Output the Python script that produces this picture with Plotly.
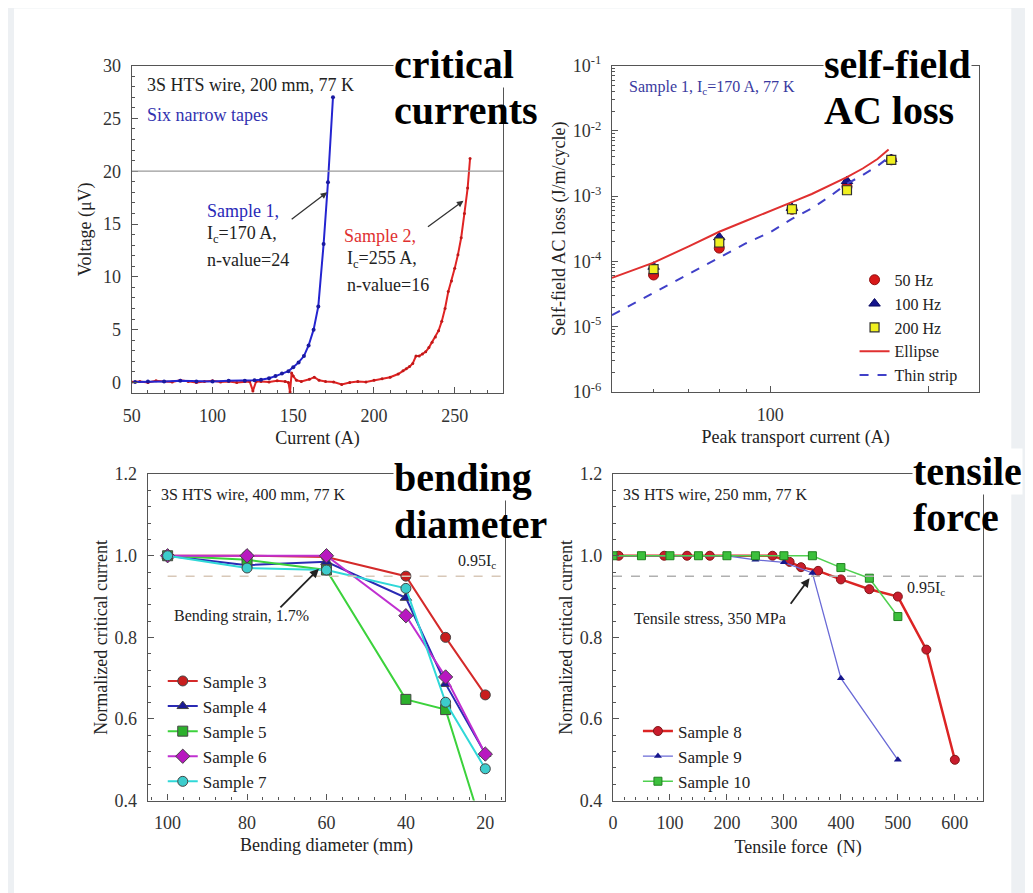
import plotly.graph_objects as go

# X()/Y() map target window pixels to paper fractions (empirically calibrated)
W, H = 1033, 893
SX, OX = 0.993, 16.0
SY, OY = 0.974, 19.5
def X(px): return ((px - OX) / SX) / W
def Y(py): return 1 - ((py - OY) / SY) / H

# ---------------- data ----------------
# Panel 1: V-I curves
s1_current = [52, 60, 70, 80, 90, 100, 110, 120, 126, 130, 135, 139, 143, 147, 150, 153.3, 156.6, 159.5, 162.6, 165.5, 168.8, 171.5, 174.6]
s1_voltage = [0.05, 0.1, 0.1, 0.15, 0.1, 0.1, 0.15, 0.15, 0.2, 0.25, 0.4, 0.6, 0.85, 1.07, 1.45, 1.9, 2.5, 3.5, 5.0, 7.2, 13.1, 18.95, 27.0]
s2_current = [50, 55, 60, 65, 70, 75, 80, 85, 90, 95, 100, 105, 110, 115, 120, 123, 125, 127, 130, 135, 140, 145, 147, 148, 149, 150, 152, 155,
              160, 163, 166, 170, 175, 180, 185, 190, 195, 200, 205, 210, 215, 218, 220, 222, 224, 226, 228, 230, 232, 234, 236, 238, 240,
              242, 244, 246, 248, 250, 252, 254, 256, 258, 259.5]
s2_voltage = [0.05, 0.1, 0.0, 0.15, 0.1, 0.05, 0.2, 0.1, 0.0, 0.1, 0.15, 0.05, 0.1, 0.0, 0.1, 0.1, -0.8, 0.1, 0.1, 0.05, 0.15, 0.1, 0.0, -0.9, 0.9, 0.6,
              0.2, 0.1, 0.3, 0.5, 0.2, 0.1, 0.05, -0.2, 0.0, 0.1, 0.05, 0.2, 0.35, 0.5, 0.8, 1.1, 1.3, 1.5, 1.8, 2.5, 2.5, 2.7, 2.9, 3.3, 3.8,
              4.3, 4.9, 5.8, 7.0, 8.6, 9.6, 10.8, 12.1, 13.7, 16.0, 18.4, 21.2]

# Panel 2: self-field AC loss
peak_current = [60, 80, 110, 140, 170]
loss_50hz = [6.2e-5, 1.6e-4, 6.3e-4, 1.4e-3, 3.6e-3]
loss_100hz = [8.3e-5, 2.35e-4, 6.6e-4, 1.7e-3, 3.7e-3]
loss_200hz = [7.6e-5, 1.95e-4, 6.3e-4, 1.23e-3, 3.6e-3]
model_current = [50, 60, 70, 80, 90, 100, 110, 120, 130, 140, 150, 160, 168]
ellipse_loss = [5.6e-5, 9.6e-5, 1.7e-4, 2.85e-4, 4.2e-4, 6.0e-4, 8.1e-4, 1.08e-3, 1.45e-3, 1.95e-3, 2.65e-3, 3.7e-3, 5.2e-3]
thinstrip_loss = [1.5e-5, 3.3e-5, 6.5e-5, 1.15e-4, 1.9e-4, 2.8e-4, 4.5e-4, 6.5e-4, 1.0e-3, 1.55e-3, 2.1e-3, 2.9e-3, 3.9e-3]

# Panel 3: bending diameter
bend_diam = [100, 80, 60, 40, 30, 20]
bend_s3 = [1.0, 1.0, 0.997, 0.95, 0.80, 0.659]
bend_s4 = [1.0, 0.977, 0.985, 0.897, 0.686, 0.515]
bend_s5 = [1.0, 0.99, 0.965, 0.648, 0.623, 0.31]
bend_s6 = [1.0, 1.0, 1.0, 0.853, 0.703, 0.514]
bend_s7 = [1.0, 0.97, 0.965, 0.92, 0.641, 0.478]

# Panel 4: tensile force
force_s8 = [10, 90, 130, 170, 280, 310, 330, 360, 400, 450, 500, 550, 600]
ic_s8 = [1.0, 1.0, 1.0, 1.0, 1.0, 0.985, 0.972, 0.963, 0.942, 0.918, 0.90, 0.77, 0.50]
force_s9 = [0, 100, 200, 250, 300, 350, 400, 500]
ic_s9 = [1.0, 1.0, 1.0, 0.99, 0.984, 0.958, 0.70, 0.50]
force_s10 = [0, 50, 100, 150, 200, 250, 300, 350, 400, 450, 500]
ic_s10 = [1.0, 1.0, 1.0, 1.0, 1.0, 1.0, 1.0, 1.0, 0.971, 0.945, 0.851]

# ---------------- figure ----------------
SERIF = "Liberation Serif"
fig = go.Figure()

# panel 1
fig.add_trace(go.Scatter(x=s2_current, y=s2_voltage, mode="lines+markers", line=dict(color="#e02424", width=2),
                         marker=dict(size=3, color="#c01818"), showlegend=False, xaxis="x", yaxis="y"))
fig.add_trace(go.Scatter(x=s1_current, y=s1_voltage, mode="lines+markers", line=dict(color="#2424d0", width=2),
                         marker=dict(size=4, color="#1a1aa0"), showlegend=False, xaxis="x", yaxis="y"))

# panel 2
fig.add_trace(go.Scatter(x=peak_current, y=loss_50hz, mode="markers", name="50 Hz",
                         marker=dict(symbol="circle", size=10, color="#d81818", line=dict(color="#901010", width=1)),
                         xaxis="x2", yaxis="y2", legend="legend"))
fig.add_trace(go.Scatter(x=peak_current, y=loss_100hz, mode="markers", name="100 Hz",
                         marker=dict(symbol="triangle-up", size=10, color="#14148c", line=dict(color="#0a0a60", width=1)),
                         xaxis="x2", yaxis="y2", legend="legend"))
fig.add_trace(go.Scatter(x=peak_current, y=loss_200hz, mode="markers", name="200 Hz",
                         marker=dict(symbol="square", size=9, color="#f0f020", line=dict(color="#303030", width=1.2)),
                         xaxis="x2", yaxis="y2", legend="legend"))
fig.add_trace(go.Scatter(x=model_current, y=ellipse_loss, mode="lines", name="Ellipse",
                         line=dict(color="#e03030", width=2), xaxis="x2", yaxis="y2", legend="legend"))
fig.add_trace(go.Scatter(x=model_current, y=thinstrip_loss, mode="lines", name="Thin strip",
                         line=dict(color="#4040c8", width=2, dash="dash"), xaxis="x2", yaxis="y2", legend="legend"))

# panel 3
bend_styles = [
    ("Sample 3", bend_s3, "#d42a2a", "#c81e1e", "circle"),
    ("Sample 4", bend_s4, "#2a2ab4", "#1a1a96", "triangle-up"),
    ("Sample 5", bend_s5, "#3cd23c", "#2cb02c", "square"),
    ("Sample 6", bend_s6, "#c030d0", "#b818c0", "diamond"),
    ("Sample 7", bend_s7, "#30d8d8", "#3ccccc", "circle"),
]
for name, vals, lc, mc, sym in bend_styles:
    fig.add_trace(go.Scatter(x=bend_diam, y=vals, mode="lines+markers", name=name,
                             line=dict(color=lc, width=2),
                             marker=dict(symbol=sym, size=11 if sym == "diamond" else 10, color=mc,
                                         line=dict(color="#444444", width=1)),
                             xaxis="x3", yaxis="y3", legend="legend2"))

# panel 4
fig.add_trace(go.Scatter(x=force_s8, y=ic_s8, mode="lines+markers", name="Sample 8",
                         line=dict(color="#dc2424", width=2.5),
                         marker=dict(symbol="circle", size=9, color="#c81c2c", line=dict(color="#801818", width=1)),
                         xaxis="x4", yaxis="y4", legend="legend3"))
fig.add_trace(go.Scatter(x=force_s9, y=ic_s9, mode="lines+markers", name="Sample 9",
                         line=dict(color="#6a6ad6", width=1.3),
                         marker=dict(symbol="triangle-up", size=7, color="#16168c"),
                         xaxis="x4", yaxis="y4", legend="legend3"))
fig.add_trace(go.Scatter(x=force_s10, y=ic_s10, mode="lines+markers", name="Sample 10",
                         line=dict(color="#50d050", width=1.5),
                         marker=dict(symbol="square", size=8, color="#3cc03c", line=dict(color="#208020", width=1)),
                         xaxis="x4", yaxis="y4", legend="legend3"))

TICKFONT = dict(family=SERIF, size=18, color="#333333")
TITLEFONT = dict(family=SERIF, size=18, color="#222222")
MINOR = dict(ticks="inside", ticklen=3, tickcolor="#555555")

def ax(minor=None, **kw):
    base = dict(showgrid=False, zeroline=False, showline=True, linecolor="#555555", linewidth=1.3,
                mirror=True, ticks="inside", ticklen=6, tickcolor="#555555", tickfont=TICKFONT,
                ticklabelstandoff=6)
    if minor:
        m = dict(MINOR); m.update(minor); base["minor"] = m
    base.update(kw)
    return base

fig.update_layout(
    width=W, height=H, margin=dict(l=0, r=0, t=0, b=0),
    paper_bgcolor="#edf0f3", plot_bgcolor="rgba(0,0,0,0)",
    xaxis=ax(domain=[X(131), X(503)], range=[50, 280], tickvals=[50, 100, 150, 200, 250], minor=dict(dtick=10),
             title=dict(text="Current (A)", font=TITLEFONT, standoff=6), anchor="y"),
    yaxis=ax(domain=[Y(392), Y(65)], range=[-1, 30], tickvals=[0, 5, 10, 15, 20, 25, 30], minor=dict(dtick=1),
             title=dict(text="Voltage (μV)", font=TITLEFONT, standoff=6), anchor="x"),
    xaxis2=ax(domain=[X(612), X(980)], type="log", range=[1.69897, 2.39794], tickvals=[100, 200], ticktext=["100", ""],
              minor=dict(tickvals=[60, 70, 80, 90]),
              title=dict(text="Peak transport current (A)", font=TITLEFONT, standoff=6), anchor="y2"),
    yaxis2=ax(domain=[Y(391), Y(65)], type="log", range=[-6, -1],
              tickvals=[1e-6, 1e-5, 1e-4, 1e-3, 1e-2, 1e-1],
              ticktext=["10<sup>-6</sup>", "10<sup>-5</sup>", "10<sup>-4</sup>", "10<sup>-3</sup>", "10<sup>-2</sup>", "10<sup>-1</sup>"],
              minor=dict(dtick="D1"),
              title=dict(text="Self-field AC loss (J/m/cycle)", font=TITLEFONT, standoff=2), anchor="x2"),
    xaxis3=ax(domain=[X(147), X(505)], range=[105, 15], tickvals=[100, 80, 60, 40, 20], minor=dict(dtick=4),
              title=dict(text="Bending diameter (mm)", font=TITLEFONT, standoff=6), anchor="y3"),
    yaxis3=ax(domain=[Y(799), Y(473)], range=[0.4, 1.2], tickvals=[0.4, 0.6, 0.8, 1.0, 1.2],
              ticktext=["0.4", "0.6", "0.8", "1.0", "1.2"], minor=dict(dtick=0.04),
              title=dict(text="Normalized critical current", font=TITLEFONT, standoff=2), anchor="x3"),
    xaxis4=ax(domain=[X(613), X(984)], range=[0, 650], tickvals=[0, 100, 200, 300, 400, 500, 600], minor=dict(dtick=20),
              title=dict(text="Tensile force  (N)", font=TITLEFONT, standoff=8), anchor="y4"),
    yaxis4=ax(domain=[Y(799), Y(473)], range=[0.4, 1.2], tickvals=[0.4, 0.6, 0.8, 1.0, 1.2],
              ticktext=["0.4", "0.6", "0.8", "1.0", "1.2"], minor=dict(dtick=0.04),
              title=dict(text="Normalized critical current", font=TITLEFONT, standoff=2), anchor="x4"),
    legend=dict(x=X(855), y=Y(262), xanchor="left", yanchor="top", bgcolor="rgba(0,0,0,0)",
                font=dict(family=SERIF, size=16, color="#222222"), tracegroupgap=0),
    legend2=dict(x=X(162), y=Y(662), xanchor="left", yanchor="top", bgcolor="rgba(0,0,0,0)",
                 font=dict(family=SERIF, size=17, color="#222222")),
    legend3=dict(x=X(638), y=Y(712), xanchor="left", yanchor="top", bgcolor="rgba(0,0,0,0)",
                 font=dict(family=SERIF, size=17, color="#222222")),
)

shapes = [
    dict(type="rect", xref="paper", yref="paper", x0=X(13), x1=X(1012), y0=-0.05, y1=Y(8),
         fillcolor="white", line=dict(width=0), layer="below"),
    dict(type="line", xref="x", yref="y", x0=50, x1=280, y0=20, y1=20, line=dict(color="#9a9a9a", width=1.2)),
    dict(type="line", xref="x3", yref="y3", x0=100, x1=15, y0=0.95, y1=0.95,
         line=dict(color="#d8c8b8", width=1.5, dash="dash")),
    dict(type="line", xref="x4", yref="y4", x0=0, x1=650, y0=0.95, y1=0.95,
         line=dict(color="#b0b0b0", width=1.5, dash="dash")),
]
fig.update_layout(shapes=shapes)

def txt(px, py, s, size=18, color="#222222", anchor="left"):
    return dict(x=X(px), y=Y(py), xref="paper", yref="paper", text=s,
                showarrow=False, xanchor=anchor, yanchor="middle",
                font=dict(family=SERIF, size=size, color=color))

annotations = [
    txt(144, 84, "3S HTS wire, 200 mm, 77 K"),
    txt(144, 114, "Six narrow tapes", color="#3232b0"),
    txt(204, 210, "Sample 1,", color="#2828b8"),
    txt(204, 234, "I<sub>c</sub>=170 A,"),
    txt(204, 259, "n-value=24"),
    txt(342, 235, "Sample 2,", color="#e03030"),
    txt(345, 259, "I<sub>c</sub>=255 A,"),
    txt(345, 284, "n-value=16"),
    txt(627, 87, "Sample 1, I<sub>c</sub>=170 A, 77 K", size=16, color="#3a3aa0"),
    txt(158, 493, "3S HTS wire, 400 mm, 77 K", size=16),
    txt(171, 615, "Bending strain, 1.7%", size=16),
    txt(456, 560, "0.95I<sub>c</sub>", size=16),
    txt(621, 493, "3S HTS wire, 250 mm, 77 K", size=16),
    txt(632, 617, "Tensile stress, 350 MPa", size=16),
    txt(906, 587, "0.95I<sub>c</sub>", size=16),
    # arrows
    dict(x=171, y=18.0, xref="x", yref="y", ax=-37, ay=28, text="", showarrow=True,
         arrowhead=2, arrowsize=1, arrowwidth=1.3, arrowcolor="#333333"),
    dict(x=255.4, y=17.2, xref="x", yref="y", ax=-37, ay=27, text="", showarrow=True,
         arrowhead=2, arrowsize=1, arrowwidth=1.3, arrowcolor="#333333"),
    dict(x=61.9, y=0.968, xref="x3", yref="y3", ax=-40, ay=40, text="", showarrow=True,
         arrowhead=2, arrowsize=1, arrowwidth=1.8, arrowcolor="#222222"),
    dict(x=345, y=0.945, xref="x4", yref="y4", ax=-20, ay=27, text="", showarrow=True,
         arrowhead=2, arrowsize=1, arrowwidth=1.8, arrowcolor="#222222"),
]
big = dict(family=SERIF, size=40, color="#000000")
for px, py, s, bg in [(393, 64, "critical", "white"), (393, 110, "currents", None),
                      (823, 64, "self-field", "white"), (823, 110, "AC loss", None),
                      (393, 476, "bending", "white"), (393, 523, "diameter", None),
                      (913, 470, "tensile", "white"), (913, 516, "force", None)]:
    a = dict(x=X(px), y=Y(py), xref="paper", yref="paper", text=f"<b>{s}</b>", showarrow=False,
             xanchor="left", yanchor="middle", font=big, borderpad=0)
    if bg:
        a["bgcolor"] = bg
    annotations.append(a)
fig.update_layout(annotations=annotations)

fig.write_html("out.html")
